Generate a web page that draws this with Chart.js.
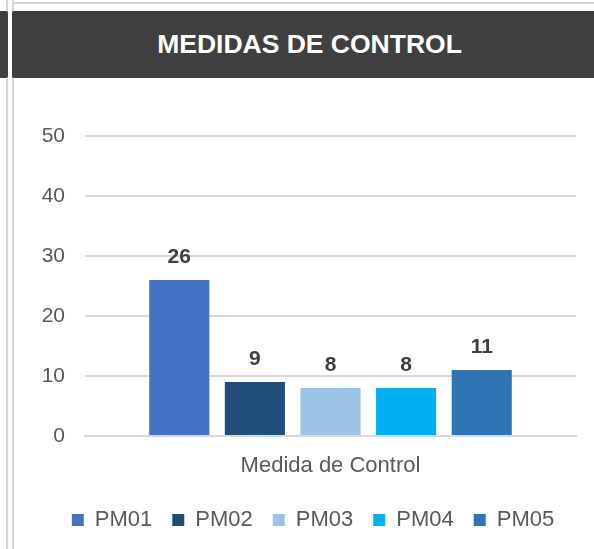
<!DOCTYPE html>
<html lang="es">
<head>
    <meta charset="UTF-8">
    <title>Medidas de Control</title>
    <script src="https://cdn.jsdelivr.net/npm/chart.js"></script>
    <style>
        body {
            margin: 0;
            width: 594px;
            height: 549px;
            background: #ffffff;
            position: relative;
            overflow: hidden;
            font-family: 'Liberation Sans', Arial, sans-serif;
        }
        .vline {
            position: absolute;
            top: 0;
            bottom: 0;
            width: 2px;
            background: #d6d6d6;
        }
        .hline {
            position: absolute;
            top: 2px;
            left: 14px;
            right: 0;
            height: 2px;
            background: #d6d6d6;
        }
        .header-left {
            position: absolute;
            top: 11px;
            left: 0;
            width: 8px;
            height: 67px;
            background: #404040;
            border-radius: 0 2px 2px 0;
        }
        .header {
            position: absolute;
            top: 11px;
            left: 12px;
            right: 0;
            height: 67px;
            background: #404040;
            border-radius: 2px 0 0 2px;
            color: #ffffff;
            font-weight: bold;
            font-size: 26.5px;
            line-height: 67px;
            text-align: center;
            padding-left: 13px;
            box-sizing: border-box;
        }
        #wrap {
            position: absolute;
            left: 16px;
            top: 80px;
            width: 578px;
            height: 469px;
        }
    </style>
</head>
<body>
    <div class="vline" style="left:6px"></div>
    <div class="vline" style="left:12px"></div>
    <div class="hline"></div>
    <div class="header-left"></div>
    <div class="header">MEDIDAS DE CONTROL</div>

    <div id="wrap"><canvas id="chart"></canvas></div>

    <script>
        // datos
        const categories = ['Medida de Control'];
        const seriesNames = ['PM01', 'PM02', 'PM03', 'PM04', 'PM05'];
        const seriesValues = [26, 9, 8, 8, 11];
        const seriesColors = ['#4472C4', '#1F4E79', '#9DC3E6', '#00B0F0', '#2E75B6'];
        const yTicks = [0, 10, 20, 30, 40, 50];

        const FONT = "'Liberation Sans', Arial, sans-serif";

        // etiquetas encima de cada barra
        const barLabels = {
            id: 'barLabels',
            afterDatasetsDraw(chart) {
                const ctx = chart.ctx;
                ctx.save();
                ctx.font = 'bold 21px ' + FONT;
                ctx.fillStyle = '#404040';
                ctx.textAlign = 'center';
                ctx.textBaseline = 'middle';
                chart.data.datasets.forEach((ds, i) => {
                    const bar = chart.getDatasetMeta(i).data[0];
                    ctx.fillText(ds.data[0], bar.x, bar.y - 23);
                });
                ctx.restore();
            }
        };

        const datasets = seriesNames.map((name, i) => ({
            label: name,
            data: [seriesValues[i]],
            backgroundColor: seriesColors[i],
            borderWidth: 0
        }));

        new Chart(document.getElementById('chart'), {
            type: 'bar',
            data: { labels: categories, datasets: datasets },
            options: {
                responsive: true,
                maintainAspectRatio: false,
                animation: false,
                categoryPercentage: 0.77,
                barPercentage: 0.795,
                layout: { padding: { left: 16, right: 0, top: 56, bottom: 8 } },
                plugins: {
                    legend: {
                        position: 'bottom',
                        labels: {
                            boxWidth: 12,
                            boxHeight: 12,
                            padding: 20,
                            color: '#595959',
                            font: { family: FONT, size: 22 }
                        }
                    },
                    tooltip: { enabled: false }
                },
                scales: {
                    y: {
                        min: 0,
                        max: 50,
                        afterBuildTicks(scale) {
                            scale.ticks = yTicks.map(v => ({ value: v }));
                        },
                        afterFit(scale) { scale.width = 53; },
                        ticks: {
                            padding: 20,
                            color: '#595959',
                            font: { family: FONT, size: 21 }
                        },
                        grid: { color: '#d9d9d9', lineWidth: 2, drawTicks: false },
                        border: { display: false }
                    },
                    // margen derecho vacio
                    yRight: {
                        position: 'right',
                        afterFit(scale) { scale.width = 18; },
                        ticks: { display: false },
                        grid: { display: false },
                        border: { display: false }
                    },
                    x: {
                        afterFit(scale) { scale.height = 53; },
                        ticks: {
                            padding: 9,
                            color: '#595959',
                            font: { family: FONT, size: 22 }
                        },
                        grid: { display: false },
                        border: { color: '#d9d9d9', width: 2 }
                    }
                }
            },
            plugins: [barLabels]
        });
    </script>
</body>
</html>
